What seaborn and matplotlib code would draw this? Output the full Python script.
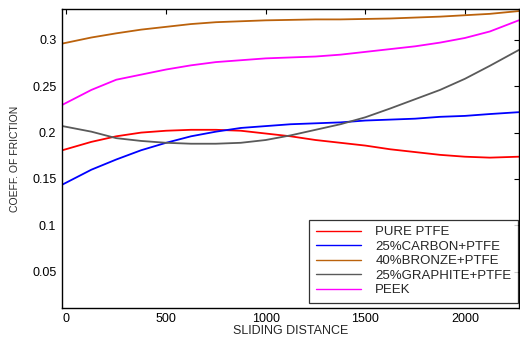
import matplotlib
matplotlib.use("Agg")
import matplotlib.pyplot as plt
import seaborn as sns
import pandas as pd

# Sliding distance samples
distance = [-20, 125, 250, 375, 500, 625, 750, 875, 1000, 1125,
            1250, 1375, 1500, 1625, 1750, 1875, 2000, 2125, 2270]

pure_ptfe = [0.181, 0.190, 0.196, 0.200, 0.202, 0.203, 0.203, 0.202, 0.199, 0.196,
             0.192, 0.189, 0.186, 0.182, 0.179, 0.176, 0.174, 0.173, 0.174]
carbon_ptfe = [0.144, 0.160, 0.171, 0.181, 0.189, 0.196, 0.201, 0.205, 0.207, 0.209,
               0.210, 0.211, 0.213, 0.214, 0.215, 0.217, 0.218, 0.220, 0.222]
bronze_ptfe = [0.296, 0.3025, 0.307, 0.311, 0.314, 0.317, 0.319, 0.320, 0.321, 0.3215,
               0.322, 0.322, 0.3225, 0.323, 0.324, 0.325, 0.3265, 0.328, 0.331]
graphite_ptfe = [0.207, 0.201, 0.194, 0.191, 0.189, 0.188, 0.188, 0.189, 0.192, 0.197,
                 0.203, 0.209, 0.2165, 0.226, 0.236, 0.246, 0.258, 0.272, 0.289]
peek = [0.230, 0.246, 0.257, 0.2625, 0.268, 0.2725, 0.276, 0.278, 0.280, 0.281,
        0.282, 0.284, 0.287, 0.290, 0.293, 0.297, 0.302, 0.309, 0.321]

labels = ["PURE PTFE", "25%CARBON+PTFE", "40%BRONZE+PTFE", "25%GRAPHITE+PTFE", "PEEK"]
series = [pure_ptfe, carbon_ptfe, bronze_ptfe, graphite_ptfe, peek]
colors = ["#ff0000", "#0000ff", "#bb620c", "#5a5a5a", "#ff00ff"]

x_ticks = [0, 500, 1000, 1500, 2000]
y_ticks = [0.05, 0.1, 0.15, 0.2, 0.25, 0.3]
y_tick_labels = ["0.05", "0.1", "0.15", "0.2", "0.25", "0.3"]

frames = []
for name, vals in zip(labels, series):
    frames.append(pd.DataFrame({"distance": distance, "cof": vals, "material": name}))
df = pd.concat(frames, ignore_index=True)

sns.set_style("white")
plt.rcParams["font.family"] = ["Liberation Sans", "DejaVu Sans"]

fig = plt.figure(figsize=(5.2, 3.41), dpi=100)
ax = fig.add_axes([0.119, 0.097, 0.879, 0.876])

sns.lineplot(data=df, x="distance", y="cof", hue="material", hue_order=labels,
             palette=dict(zip(labels, colors)), linewidth=1.3, ax=ax, sort=True)

ax.set_xlim(-23, 2271)
ax.set_ylim(0.011, 0.333)
ax.set_xticks(x_ticks)
ax.set_yticks(y_ticks)
ax.set_yticklabels(y_tick_labels)
ax.tick_params(direction="in", length=3.5, width=0.8, top=True, right=True,
               labelsize=9, colors="black", pad=4)
for s in ax.spines.values():
    s.set_visible(True)
    s.set_color("black")
    s.set_linewidth(1.0)

ax.set_xlabel("SLIDING DISTANCE", fontsize=9, labelpad=0)
ax.set_ylabel("COEFF. OF FRICTION", fontsize=7.5, labelpad=9)

leg = ax.legend(loc="lower right", bbox_to_anchor=(518 / 520, 38 / 341),
                bbox_transform=fig.transFigure, borderaxespad=0,
                fontsize=9.5, frameon=True, fancybox=False,
                handlelength=3.4, handletextpad=1.1,
                labelspacing=0.17, borderpad=0.5)
leg.get_frame().set_edgecolor("black")
leg.get_frame().set_linewidth(0.9)
for line in leg.get_lines():
    line.set_linewidth(1.0)

fig.savefig("out.png", dpi=100)
